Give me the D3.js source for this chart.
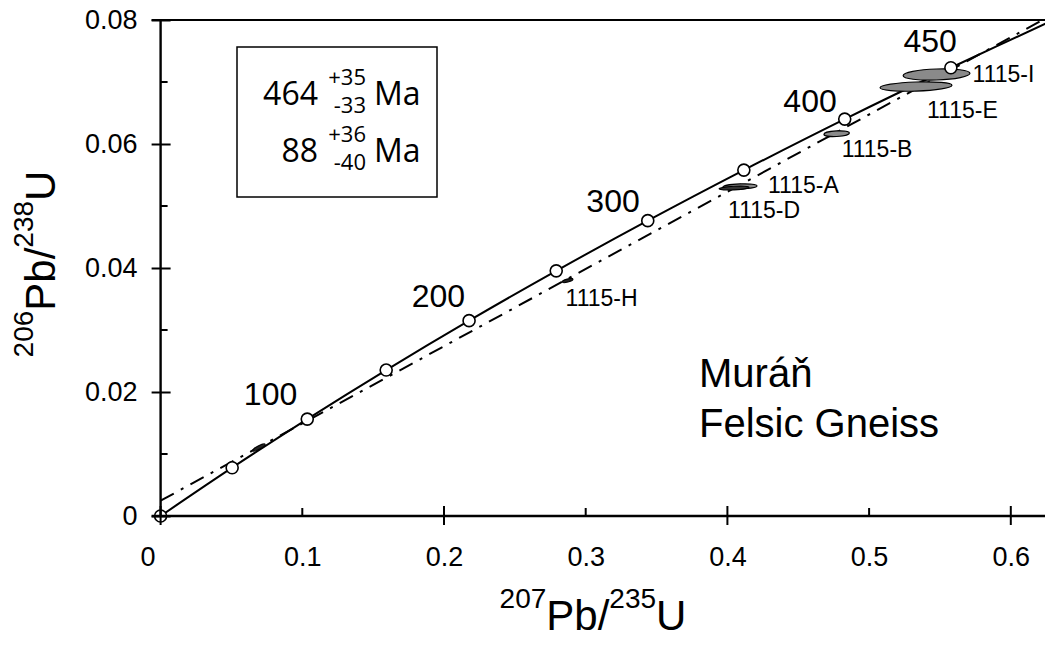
<!DOCTYPE html>
<html>
<head>
<meta charset="utf-8">
<script src="https://cdn.jsdelivr.net/npm/d3@7"></script>
<style>
  body { margin: 0; background: #fff; }
  svg { display: block; }
</style>
</head>
<body>
<div id="chart"></div>
<script>
// DATA
// concordia points (Ma) and their isotope ratios
const concordiaAges = [0, 50, 100, 150, 200, 250, 300, 350, 400, 450, 500];
const concordia207 = [0, 0.0505, 0.1035, 0.1592, 0.2177, 0.2792, 0.3438, 0.4116, 0.4828, 0.5577, 0.6362];
const concordia206 = [0, 0.00779, 0.01563, 0.02354, 0.03151, 0.03954, 0.04764, 0.05579, 0.06402, 0.07230, 0.08065];
const ageLabels = [100, 200, 300, 400, 450];

// discordia through the two intercepts
const discordia207 = [0, 0.624];
const discordia206 = [0.00247, 0.0802];
const interceptAges = [464, 88];
const interceptPlus = [35, 36];
const interceptMinus = [33, 40];

// analyses (error ellipses)
const sampleNames = ["1115-I", "1115-E", "1115-B", "1115-A", "1115-D", "1115-H", ""];
const sample207 = [0.5476, 0.5331, 0.4771, 0.4089, 0.4047, 0.2872, 0.0694];
const sample206 = [0.07121, 0.06927, 0.06166, 0.05315, 0.05290, 0.03798, 0.01105];
const sampleErr207 = [0.0236, 0.0254, 0.0090, 0.0120, 0.0106, 0.0039, 0.0049];
const sampleErr206 = [0.00089, 0.00073, 0.00045, 0.00042, 0.00029, 0.00024, 0.00026];
const sampleTilt = [-2, -2, -3, -2, -3, -15, -28];

const xTicks = [0, 0.1, 0.2, 0.3, 0.4, 0.5, 0.6];
const yTicks = [0, 0.02, 0.04, 0.06, 0.08];
const yMinor = [0.01, 0.03, 0.05, 0.07];

// LAYOUT
const width = 1045, height = 646;
const ageLabelOffset = [[-10, -14], [-4, -14], [-8, -9], [-8, -7], [6, -16]];
const sampleLabelOffset = [[36, 8], [11, 31], [5, 23], [28, 7], [-6, 30], [-2, 25], null];
const sampleFill = ["#8a8a8a", "#8a8a8a", "#8a8a8a", "#8a8a8a", "#333", "#222", "#222"];
const font = "'Liberation Sans', Arial, sans-serif";

const x = d3.scaleLinear().domain([0, 0.6]).range([160.6, 1010.8]);
const y = d3.scaleLinear().domain([0, 0.08]).range([516, 20]);

const svg = d3.select("#chart").append("svg")
    .attr("width", width)
    .attr("height", height)
    .style("font-family", font);

svg.append("clipPath").attr("id", "plotClip")
    .append("rect")
    .attr("x", x(0)).attr("y", y(0.08))
    .attr("width", width - x(0)).attr("height", y(0) - y(0.08));

const plot = svg.append("g").attr("clip-path", "url(#plotClip)");

// discordia (dash-dot)
plot.append("path")
    .datum(d3.zip(discordia207, discordia206))
    .attr("d", d3.line().x(d => x(d[0])).y(d => y(d[1])))
    .attr("fill", "none")
    .attr("stroke", "#000")
    .attr("stroke-width", 2)
    .attr("stroke-dasharray", "15,8,3,8");

// concordia curve
plot.append("path")
    .datum(d3.zip(concordia207, concordia206))
    .attr("d", d3.line().x(d => x(d[0])).y(d => y(d[1])).curve(d3.curveCatmullRom))
    .attr("fill", "none")
    .attr("stroke", "#000")
    .attr("stroke-width", 2);

// error ellipses
const samples = sampleNames.map((name, i) => ({
    name,
    cx: x(sample207[i]),
    cy: y(sample206[i]),
    rx: x(sample207[i] + sampleErr207[i]) - x(sample207[i]),
    ry: y(sample206[i]) - y(sample206[i] + sampleErr206[i]),
    tilt: sampleTilt[i],
    fill: sampleFill[i],
    off: sampleLabelOffset[i]
}));

plot.selectAll("ellipse.sample")
    .data(samples)
    .join("ellipse")
    .attr("class", "sample")
    .attr("cx", d => d.cx)
    .attr("cy", d => d.cy)
    .attr("rx", d => d.rx)
    .attr("ry", d => d.ry)
    .attr("transform", d => `rotate(${d.tilt},${d.cx},${d.cy})`)
    .attr("fill", d => d.fill)
    .attr("stroke", "#000")
    .attr("stroke-width", 1.2);

// concordia age markers
svg.selectAll("circle.age")
    .data(concordiaAges.slice(0, 10))
    .join("circle")
    .attr("class", "age")
    .attr("cx", (d, i) => x(concordia207[i]))
    .attr("cy", (d, i) => y(concordia206[i]))
    .attr("r", 6)
    .attr("fill", "#fff")
    .attr("stroke", "#000")
    .attr("stroke-width", 1.6);

svg.selectAll("text.ageLabel")
    .data(ageLabels)
    .join("text")
    .attr("class", "ageLabel")
    .attr("x", (d, i) => x(concordia207[concordiaAges.indexOf(d)]) + ageLabelOffset[i][0])
    .attr("y", (d, i) => y(concordia206[concordiaAges.indexOf(d)]) + ageLabelOffset[i][1])
    .attr("text-anchor", "end")
    .attr("font-size", 32)
    .text(d => d);

svg.selectAll("text.sampleLabel")
    .data(samples.filter(d => d.off))
    .join("text")
    .attr("class", "sampleLabel")
    .attr("x", d => d.cx + d.off[0])
    .attr("y", d => d.cy + d.off[1])
    .attr("font-size", 23)
    .text(d => d.name);

// AXES
const xAxis = svg.append("g")
    .attr("transform", `translate(0,${y(0)})`)
    .call(d3.axisBottom(x)
        .tickValues(xTicks)
        .tickSize(0)
        .tickPadding(31)
        .tickFormat(d => d === 0 ? "0" : d3.format(".1f")(d)));
xAxis.select(".domain").remove();
xAxis.selectAll("text")
    .attr("font-size", 27)
    .attr("font-family", font)
    .attr("fill", "#000")
    .attr("dx", d => d === 0 ? -13 : 0);

// x tick marks: majors cross the axis, minors point inward
xAxis.selectAll("line.xt")
    .data(xTicks)
    .join("line")
    .attr("class", "xt")
    .attr("x1", d => x(d)).attr("x2", d => x(d))
    .attr("y1", (d, i) => i % 2 === 0 ? 9 : 0)
    .attr("y2", (d, i) => i % 2 === 0 ? -10 : -8)
    .attr("stroke", "#000")
    .attr("stroke-width", 2);

const yAxis = svg.append("g")
    .attr("transform", `translate(${x(0)},0)`)
    .call(d3.axisLeft(y)
        .tickValues(yTicks)
        .tickSize(9)
        .tickPadding(14)
        .tickFormat(d => d === 0 ? "0" : d3.format(".2f")(d)));
yAxis.select(".domain").remove();
yAxis.selectAll(".tick line").attr("stroke", "#000").attr("stroke-width", 2).attr("x2", 10).attr("x1", -9);
yAxis.selectAll("text")
    .attr("font-size", 27)
    .attr("font-family", font)
    .attr("fill", "#000");

yAxis.selectAll("line.ym")
    .data(yMinor)
    .join("line")
    .attr("class", "ym")
    .attr("x1", 0).attr("x2", 7)
    .attr("y1", d => y(d)).attr("y2", d => y(d))
    .attr("stroke", "#000")
    .attr("stroke-width", 2);

// axis lines and top frame
svg.append("line")
    .attr("x1", x(0)).attr("x2", x(0))
    .attr("y1", y(0)).attr("y2", y(0.08))
    .attr("stroke", "#000").attr("stroke-width", 2.4);
svg.append("line")
    .attr("x1", x(0) - 9).attr("x2", width)
    .attr("y1", y(0)).attr("y2", y(0))
    .attr("stroke", "#000").attr("stroke-width", 2.4);
svg.append("line")
    .attr("x1", x(0) - 9).attr("x2", width)
    .attr("y1", y(0.08)).attr("y2", y(0.08))
    .attr("stroke", "#000").attr("stroke-width", 2);

// axis titles with superscript mass numbers
const isoLabel = (sel, a, b, sym) => {
    sel.append("tspan").attr("font-size", 28).attr("dy", -22).text(a);
    sel.append("tspan").attr("font-size", 42).attr("dy", 22).text("Pb/");
    sel.append("tspan").attr("font-size", 28).attr("dy", -22).text(b);
    sel.append("tspan").attr("font-size", 42).attr("dy", 22).text(sym);
};

svg.append("text")
    .attr("x", 593).attr("y", 630)
    .attr("text-anchor", "middle")
    .call(isoLabel, "207", "235", "U");

svg.append("text")
    .attr("transform", "translate(55,264) rotate(-90)")
    .attr("text-anchor", "middle")
    .call(isoLabel, "206", "238", "U");

// sample name
svg.append("text")
    .attr("x", 699).attr("y", 387)
    .attr("font-size", 40)
    .text("Muráň");
svg.append("text")
    .attr("x", 699).attr("y", 437)
    .attr("font-size", 40)
    .text("Felsic Gneiss");

// intercept ages box
const box = svg.append("g").style("font-family", "'Open Sans', sans-serif");
box.append("rect")
    .attr("x", 237).attr("y", 47)
    .attr("width", 200).attr("height", 150)
    .attr("fill", "#fff")
    .attr("stroke", "#000")
    .attr("stroke-width", 1.5);

const rowBase = [105, 162];
interceptAges.forEach((age, i) => {
    const b = rowBase[i];
    box.append("text").attr("x", 318).attr("y", b)
        .attr("text-anchor", "end").attr("font-size", 32).text(age);
    box.append("text").attr("x", 366).attr("y", b - 20)
        .attr("text-anchor", "end").attr("font-size", 22).text("+" + interceptPlus[i]);
    box.append("text").attr("x", 366).attr("y", b + 8)
        .attr("text-anchor", "end").attr("font-size", 22).text("-" + interceptMinus[i]);
    box.append("text").attr("x", 374).attr("y", b)
        .attr("font-size", 32).text("Ma");
});
</script>
</body>
</html>
